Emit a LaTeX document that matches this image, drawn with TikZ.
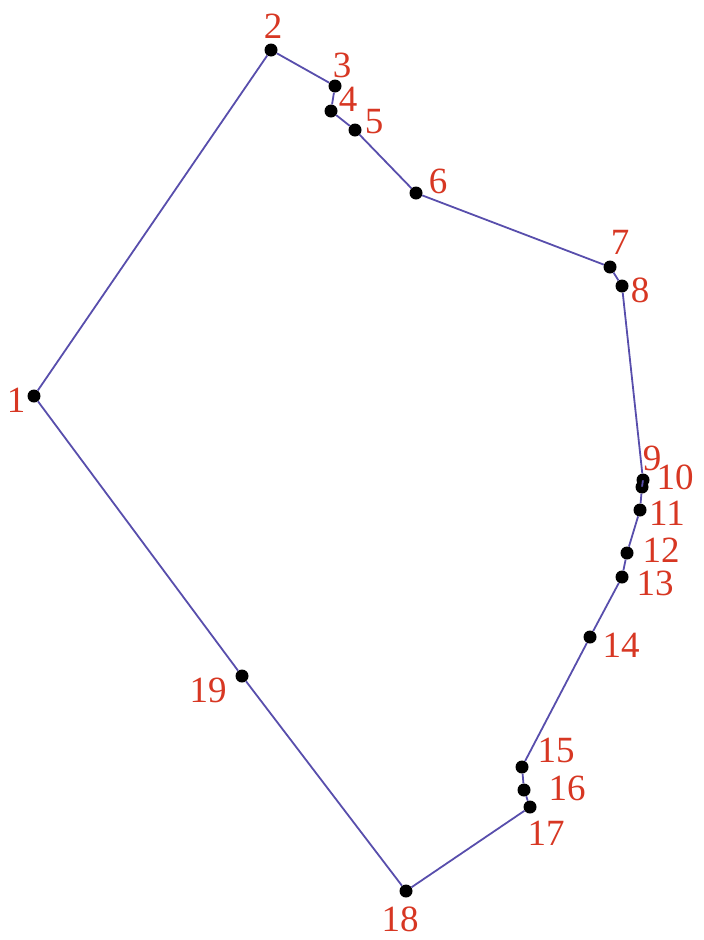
\documentclass[tikz,border=0pt]{standalone}
\usepackage{fontspec}
\setmainfont{Liberation Serif}
\definecolor{edgecol}{RGB}{88,78,172}
\definecolor{labcol}{RGB}{215,55,35}
\tikzset{
  dot/.style={circle,fill=black,inner sep=0pt,minimum size=13pt},
  lbl/.style={text=labcol,inner sep=0pt,font=\fontsize{37}{37}\selectfont},
  edgeline/.style={draw=edgecol,line width=1.8pt}
}
\begin{document}
\begin{tikzpicture}[x=1pt,y=-1pt]
\useasboundingbox (0,0) rectangle (704,940);
\node[dot] (p1) at (34,396) {};
\node[dot] (p2) at (271,50) {};
\node[dot] (p3) at (335,86) {};
\node[dot] (p4) at (331,111) {};
\node[dot] (p5) at (355,130) {};
\node[dot] (p6) at (416,193) {};
\node[dot] (p7) at (610,267) {};
\node[dot] (p8) at (622,286) {};
\node[dot] (p9) at (643,480) {};
\node[dot] (p10) at (642,487) {};
\node[dot] (p11) at (640,510) {};
\node[dot] (p12) at (627,553) {};
\node[dot] (p13) at (622,577) {};
\node[dot] (p14) at (590,637) {};
\node[dot] (p15) at (522,767) {};
\node[dot] (p16) at (524,790) {};
\node[dot] (p17) at (530,807) {};
\node[dot] (p18) at (406,891) {};
\node[dot] (p19) at (242,676) {};
\draw[edgeline] (p1) -- (p2) -- (p3) -- (p4) -- (p5) -- (p6) -- (p7) -- (p8) -- (p9) -- (p10) -- (p11) -- (p12) -- (p13) -- (p14) -- (p15) -- (p16) -- (p17) -- (p18) -- (p19) -- (p1);
\node[lbl] (l1) at (16,400) {1};
\node[lbl] (l2) at (273,26) {2};
\node[lbl] (l3) at (342,65) {3};
\node[lbl] (l4) at (348,99) {4};
\node[lbl] (l5) at (374,122) {5};
\node[lbl] (l6) at (438,181) {6};
\node[lbl] (l7) at (620,242) {7};
\node[lbl] (l8) at (640,290) {8};
\node[lbl] (l9) at (652,458) {9};
\node[lbl] (l10) at (675,477) {10};
\node[lbl] (l11) at (667,513) {11};
\node[lbl] (l12) at (661,550) {12};
\node[lbl] (l13) at (655,583) {13};
\node[lbl] (l14) at (621,645) {14};
\node[lbl] (l15) at (556,750) {15};
\node[lbl] (l16) at (567,788) {16};
\node[lbl] (l17) at (546,833) {17};
\node[lbl] (l18) at (400,919) {18};
\node[lbl] (l19) at (208,690) {19};
\end{tikzpicture}
\end{document}
